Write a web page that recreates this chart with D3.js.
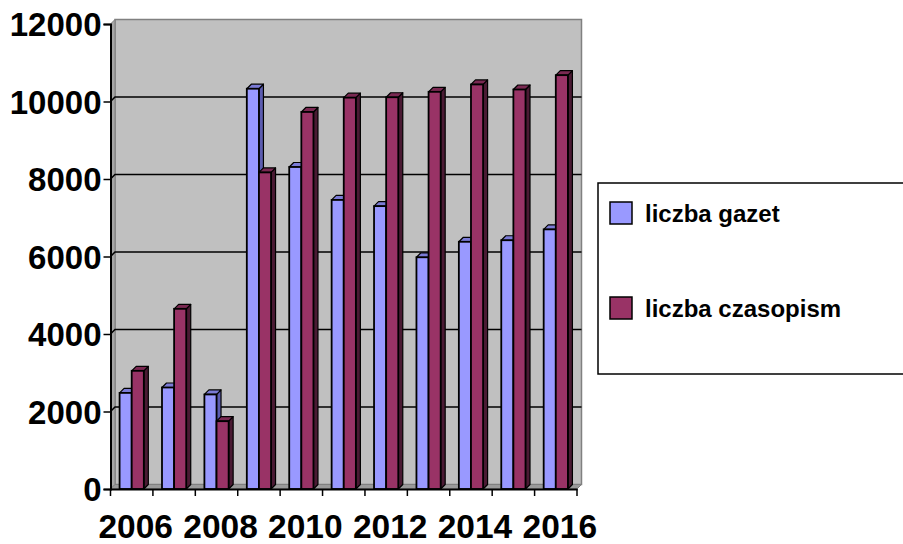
<!DOCTYPE html>
<html>
<head>
<meta charset="utf-8">
<script src="https://cdn.jsdelivr.net/npm/d3@7"></script>
<style>
  body { margin: 0; background: #fff; }
  text { font-family: Arial, "Liberation Sans", sans-serif; font-weight: bold; }
</style>
</head>
<body>
<script>
// data
var years = ["2006", "2007", "2008", "2009", "2010", "2011", "2012", "2013", "2014", "2015", "2016"];
var seriesNames = ["liczba gazet", "liczba czasopism"];
var gazety = [2480, 2620, 2440, 10330, 8310, 7460, 7300, 5980, 6380, 6420, 6700];
var czasopisma = [3050, 4650, 1750, 8170, 9730, 10100, 10110, 10250, 10440, 10310, 10680];
var yTicks = [0, 2000, 4000, 6000, 8000, 10000, 12000];
var xLabels = ["2006", "2008", "2010", "2012", "2014", "2016"];

var width = 903, height = 544;
var dx = 4.5, dy = 4.5; // depth of the 3d look

var front = { "liczba gazet": "#9999FF", "liczba czasopism": "#993366" };
var topC = { "liczba gazet": "#7b7bd6", "liczba czasopism": "#7a2952" };
var sideC = { "liczba gazet": "#5c5cb0", "liczba czasopism": "#4a1a33" };

var svg = d3.select("body").append("svg")
    .attr("width", width)
    .attr("height", height);

var x0 = d3.scaleBand()
    .domain(years)
    .range([110.5, 577]);

var x1 = d3.scaleBand()
    .domain(seriesNames)
    .range([0, x0.bandwidth()])
    .paddingOuter(0.75);

var y = d3.scaleLinear()
    .domain([0, 12000])
    .range([489, 24]);

var xLeft = x0.range()[0], xRight = x0.range()[1];
var yBase = y(0), yTop = y(12000);

// back wall
svg.append("rect")
    .attr("x", xLeft + dx).attr("y", yTop - dy)
    .attr("width", xRight - xLeft).attr("height", yBase - yTop)
    .attr("fill", "#c0c0c0").attr("stroke", "#808080").attr("stroke-width", 1.5);

// side wall
svg.append("polygon")
    .attr("points", [[xLeft, yTop], [xLeft + dx, yTop - dy], [xLeft + dx, yBase - dy], [xLeft, yBase]].join(" "))
    .attr("fill", "#a6a6a6").attr("stroke", "#808080");

// floor
svg.append("polygon")
    .attr("points", [[xLeft, yBase], [xLeft + dx, yBase - dy], [xRight + dx, yBase - dy], [xRight, yBase]].join(" "))
    .attr("fill", "#9a9a9a").attr("stroke", "#808080");

// grid lines on the back wall
svg.append("g").selectAll("path")
    .data(yTicks.filter(function (d) { return d > 0 && d < 12000; }))
    .join("path")
    .attr("d", function (d) {
        return "M" + xLeft + "," + y(d) + "L" + (xLeft + dx) + "," + (y(d) - dy) + "L" + (xRight + dx) + "," + (y(d) - dy);
    })
    .attr("fill", "none").attr("stroke", "#000").attr("stroke-width", 1.5);

// bars
var rows = years.map(function (yr, i) {
    return { year: yr, vals: [{ s: seriesNames[0], v: gazety[i] }, { s: seriesNames[1], v: czasopisma[i] }] };
});

var groups = svg.append("g").selectAll("g")
    .data(rows)
    .join("g")
    .attr("transform", function (d) { return "translate(" + x0(d.year) + ",0)"; });

var bars = groups.selectAll("g")
    .data(function (d) { return d.vals; })
    .join("g");

bars.each(function (d) {
    var g = d3.select(this);
    var bx = x1(d.s), w = x1.bandwidth(), ty = y(d.v);
    // side
    g.append("polygon")
        .attr("points", [[bx + w, ty], [bx + w + dx, ty - dy], [bx + w + dx, yBase - dy], [bx + w, yBase]].join(" "))
        .attr("fill", sideC[d.s]).attr("stroke", "#000").attr("stroke-width", 1.2).attr("stroke-linejoin", "round");
    // top
    g.append("polygon")
        .attr("points", [[bx, ty], [bx + dx, ty - dy], [bx + w + dx, ty - dy], [bx + w, ty]].join(" "))
        .attr("fill", topC[d.s]).attr("stroke", "#000").attr("stroke-width", 1.2).attr("stroke-linejoin", "round");
    // front
    g.append("rect")
        .attr("x", bx).attr("y", ty)
        .attr("width", w).attr("height", yBase - ty)
        .attr("fill", front[d.s]).attr("stroke", "#000").attr("stroke-width", 1.8);
});

// y axis
var yAxis = svg.append("g")
    .attr("transform", "translate(" + xLeft + ",0)")
    .call(d3.axisLeft(y).tickValues(yTicks).tickSize(7).tickPadding(2).tickFormat(d3.format("d")));
yAxis.select(".domain").attr("stroke", "#000").attr("stroke-width", 2);
yAxis.selectAll(".tick line").attr("stroke", "#000").attr("stroke-width", 1.5);
yAxis.selectAll(".tick text")
    .attr("font-size", 33).attr("fill", "#000").attr("dy", "0.36em")
    .style("font-family", "Arial, 'Liberation Sans', sans-serif");

// x axis
var xAxis = svg.append("g")
    .attr("transform", "translate(0," + yBase + ")")
    .call(d3.axisBottom(x0).tickValues([]).tickSizeOuter(0));
xAxis.select(".domain").attr("stroke", "#000").attr("stroke-width", 2);
xAxis.selectAll(".sep")
    .data(years.concat(["end"]))
    .join("line")
    .attr("class", "sep")
    .attr("x1", function (d, i) { return xLeft + i * x0.step(); })
    .attr("x2", function (d, i) { return xLeft + i * x0.step(); })
    .attr("y1", 0).attr("y2", 7)
    .attr("stroke", "#000").attr("stroke-width", 1.5);

svg.append("g").selectAll("text")
    .data(xLabels)
    .join("text")
    .attr("x", function (d) { return x0(d) + x0.bandwidth() / 2 + 4; })
    .attr("y", 538)
    .attr("text-anchor", "middle")
    .attr("font-size", 33.5)
    .text(function (d) { return d; });

// legend
var legend = svg.append("g");
legend.append("rect")
    .attr("x", 598).attr("y", 183)
    .attr("width", 320).attr("height", 191)
    .attr("fill", "#fff").attr("stroke", "#000").attr("stroke-width", 1.5);

var items = legend.selectAll("g")
    .data(seriesNames)
    .join("g")
    .attr("transform", function (d, i) { return "translate(610," + (202 + i * 95) + ")"; });

items.append("rect")
    .attr("width", 22).attr("height", 22)
    .attr("fill", function (d) { return front[d]; })
    .attr("stroke", "#000").attr("stroke-width", 1.5);

items.append("text")
    .attr("x", 35).attr("y", 20)
    .attr("font-size", 24)
    .text(function (d) { return d; });
</script>
</body>
</html>
